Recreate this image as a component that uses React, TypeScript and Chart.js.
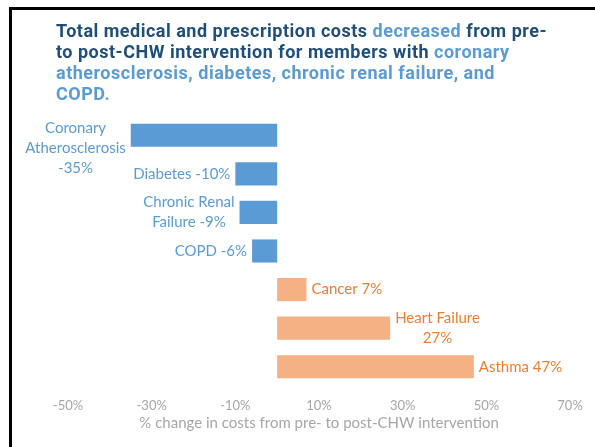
import React, { useEffect, useRef } from "react";
import { Chart, registerables } from "chart.js";
Chart.register(...registerables);

const categories = [
  "Coronary Atherosclerosis",
  "Diabetes",
  "Chronic Renal Failure",
  "COPD",
  "Cancer",
  "Heart Failure",
  "Asthma",
];
const values = [-35, -10, -9, -6, 7, 27, 47];
const labelLines = [
  ["Coronary", "Atherosclerosis", "-35%"],
  ["Diabetes -10%"],
  ["Chronic Renal", "Failure -9%"],
  ["COPD -6%"],
  ["Cancer 7%"],
  ["Heart Failure", "27%"],
  ["Asthma 47%"],
];
const xMin = -50;
const xMax = 70;
const xStep = 20;
const axisTitle = "% change in costs from pre- to post-CHW intervention";

const BLUE = "#5B9BD5";
const ORANGE_BAR = "#F4B183";
const ORANGE_TEXT = "#ED7D31";
const GRAY = "#A6A6A6";
const NAVY = "#1F4E79";
const LABEL_FONT = "15px Lato";
const LH = 20;
const GAP = 5;

const labelPlugin = {
  id: "barLabels",
  afterDatasetsDraw(chart: any) {
    const ctx = chart.ctx;
    const meta = chart.getDatasetMeta(0);
    ctx.save();
    ctx.font = LABEL_FONT;
    ctx.textBaseline = "middle";
    ctx.textAlign = "center";
    meta.data.forEach((el: any, i: number) => {
      const lines = labelLines[i];
      const neg = values[i] < 0;
      const w = Math.max(...lines.map((l) => ctx.measureText(l).width));
      const cx = neg ? el.x - GAP - w / 2 : el.x + GAP + w / 2;
      const h = lines.length * LH;
      let top = el.y - h / 2;
      if (top < chart.chartArea.top) top = chart.chartArea.top + 2;
      ctx.fillStyle = neg ? BLUE : ORANGE_TEXT;
      lines.forEach((l, j) => ctx.fillText(l, cx, top + LH * j + LH / 2));
    });
    ctx.restore();
  },
};

function BarChart() {
  const ref = useRef<HTMLCanvasElement>(null);
  useEffect(() => {
    const chart = new Chart(ref.current!, {
      type: "bar",
      data: {
        labels: categories,
        datasets: [
          {
            data: values,
            backgroundColor: values.map((v) => (v < 0 ? BLUE : ORANGE_BAR)),
            barPercentage: 0.6,
            categoryPercentage: 1,
          },
        ],
      },
      options: {
        indexAxis: "y",
        animation: false,
        responsive: false,
        layout: { padding: { left: 68, right: 19.5, top: 116, bottom: 15 } },
        plugins: {
          legend: { display: false },
          tooltip: { enabled: false },
        },
        scales: {
          x: {
            min: xMin,
            max: xMax,
            grid: { display: false, drawTicks: false },
            border: { display: false },
            ticks: {
              stepSize: xStep,
              padding: 12.2,
              color: GRAY,
              font: { family: "Lato", size: 13 },
              callback: (v: any) => v + "%",
            },
            title: {
              display: true,
              text: axisTitle,
              color: GRAY,
              font: { family: "Lato", size: 15 },
              padding: { top: -12, bottom: 0 },
            },
          },
          y: { display: false },
        },
      },
      plugins: [labelPlugin],
    } as any);
    return () => chart.destroy();
  }, []);
  return (
    <canvas
      ref={ref}
      width={595}
      height={447}
      style={{ position: "absolute", left: 0, top: 0, width: 595, height: 447 }}
    />
  );
}

export default function App() {
  const light = { color: BLUE };
  return (
    <div
      style={{
        position: "fixed",
        left: 0,
        top: 0,
        width: 595,
        height: 447,
        overflow: "hidden",
        background: "#fff",
      }}
    >
      <div
        style={{
          position: "absolute",
          left: 9,
          top: 7,
          width: 800,
          height: 800,
          borderLeft: "3px solid #000",
          borderTop: "3px solid #000",
        }}
      />
      <BarChart />
      <div
        style={{
          position: "absolute",
          left: 56,
          top: 20,
          fontFamily: "Roboto, sans-serif",
          fontWeight: 700,
          fontSize: 18,
          letterSpacing: "0.5px",
          lineHeight: "21px",
          color: NAVY,
          whiteSpace: "nowrap",
        }}
      >
        Total medical and prescription costs <span style={light}>decreased</span> from pre-
        <br />
        to post-CHW intervention for members with <span style={light}>coronary</span>
        <br />
        <span style={light}>atherosclerosis, diabetes, chronic renal failure, and</span>
        <br />
        <span style={light}>COPD.</span>
      </div>
    </div>
  );
}
